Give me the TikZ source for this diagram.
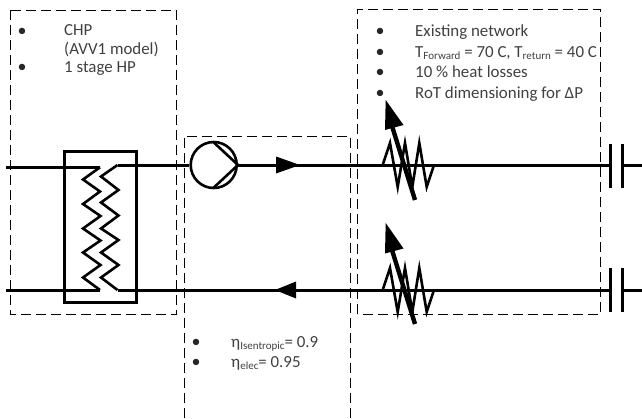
\documentclass[tikz,border=0pt]{standalone}
\usepackage{fontspec}
\setmainfont{Carlito}
\usepackage{tikz}
\newcommand{\subind}[1]{\raisebox{-2.5pt}{\fontsize{11}{11}\selectfont #1}}

\begin{document}
\begin{tikzpicture}[x=1pt, y=-1pt,
  zona/.style={draw, line width=1pt, dash pattern=on 10pt off 5pt},
  tubo/.style={draw, line width=3pt},
  serp/.style={draw, line width=2.6pt, miter limit=4},
  punta/.style={fill=black, draw=none},
  bala/.style={anchor=base, inner sep=0pt, font=\fontsize{18}{18}\selectfont, text=black!85},
  texto/.style={anchor=base west, inner sep=0pt, font=\fontsize{16.9}{16.9}\selectfont, text=black!75}]
\useasboundingbox (0,0) rectangle (642,418);
% zonas
\draw[zona] (10,10) rectangle (176.5,314);
\draw[zona] (184,418) -- (184,136) -- (350.5,136) -- (350.5,418);
\draw[zona] (357.5,314) -- (357.5,9.5) -- (600.5,9.5) -- (600.5,314) -- cycle;
% equipos
\node[draw, line width=3.2pt, minimum width=72pt, minimum height=151pt, inner sep=0pt] (interc) at (100.5,227) {};
\node[draw, circle, line width=2.6pt, minimum size=46pt, inner sep=0pt] (bomba) at (213.7,165) {};
\coordinate (ent1) at (6,167.3);
\coordinate (ent2) at (6,290);
\coordinate (sal1) at (100,167.3);
\coordinate (sal2) at (100,290);
\coordinate (ret1) at (117.5,165);
\coordinate (ret2) at (117.5,290);
\coordinate (cap1a) at (610,165);
\coordinate (cap1b) at (622,165);
\coordinate (cap2a) at (610,290);
\coordinate (cap2b) at (622,290);
\coordinate (fin1) at (642,165);
\coordinate (fin2) at (642,290);
% tuberias
\draw[tubo] (ent1) -- (sal1);
\draw[tubo] (ent2) -- (sal2);
\draw[tubo] (ret1) -- (bomba.west);
\draw[tubo] (bomba.east) -- (cap1a);
\draw[tubo] (ret2) -- (cap2a);
\draw[tubo] (cap1b) -- (fin1);
\draw[tubo] (cap2b) -- (fin2);
% serpentines
\draw[serp] (sal1) -- (83,179.5) -- (100,191.5) -- (83,204) -- (100.5,216) -- (83,228.5) -- (100.5,240.5) -- (83,252.5) -- (100.5,265) -- (83,277.5) -- (sal2);
\draw[serp] (ret1) -- (101,176.5) -- (118.5,190) -- (101,202.5) -- (118.5,215.5) -- (101,228.5) -- (118.5,240) -- (101,252.5) -- (118.5,265) -- (101,277.5) -- (ret2);
% bomba
\draw[serp] (213.3,142) -- (bomba.east) -- (213.3,188);
% flechas de flujo
\fill[punta] (300,165) -- (276,156.5) -- (276,173.5) -- cycle;
\fill[punta] (275,290) -- (296,281.5) -- (296,298.5) -- cycle;
% resistencias
\foreach \yy in {165, 290}{
  \draw[line width=2.6pt] (382.7,\yy) -- (390,\yy-22) -- (397.7,\yy+22) -- (405,\yy-22) -- (412.3,\yy+22) -- (419.3,\yy-22) -- (426.7,\yy+22) -- (434,\yy);
}
\draw[line width=4.4pt] (415,200) -- (392,126);
\fill[punta] (385.7,100) -- (385,130) -- (403.5,125) -- cycle;
\draw[line width=4.4pt] (415,324) -- (392,250);
\fill[punta] (385.7,223) -- (385,253.5) -- (403.5,248.5) -- cycle;
% condensadores
\draw[line width=3pt] (cap1a) ++(0,-21.5) -- ++(0,44);
\draw[line width=3pt] (cap1b) ++(0,-21.5) -- ++(0,44);
\draw[line width=3pt] (cap2a) ++(0,-22) -- ++(0,44);
\draw[line width=3pt] (cap2b) ++(0,-22) -- ++(0,44);
% textos
\node[bala] (b1) at (22,36) {•};
\node[bala] (b2) at (22,72.5) {•};
\node[texto] (chp) at (64,35.5) {CHP};
\node[texto] (avv) at (64,54) {(AVV1 model)};
\node[texto] (hp) at (64,72) {1 stage HP};
\node[bala] (b3) at (380,36.5) {•};
\node[bala] (b4) at (380,57.5) {•};
\node[bala] (b5) at (380,77.5) {•};
\node[bala] (b6) at (380,98.5) {•};
\node[texto] (red) at (415,36) {Existing network};
\node[texto] (temp) at (415,57) {T\subind{Forward} = 70 C, T\subind{return} = 40 C};
\node[texto] (perd) at (415,77) {10 \% heat losses};
\node[texto] (rot) at (415,98) {RoT dimensioning for ΔP};
\node[bala] (b7) at (196,347.5) {•};
\node[bala] (b8) at (196,367.5) {•};
\node[texto] (iso) at (231,347) {η\subind{Isentropic}= 0.9};
\node[texto] (ele) at (231,367) {η\subind{elec}= 0.95};
\end{tikzpicture}
\end{document}
